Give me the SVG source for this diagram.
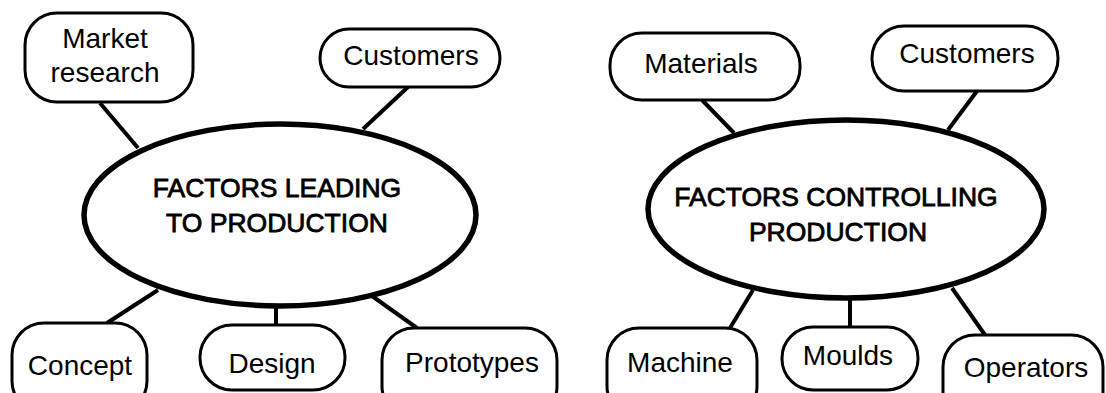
<svg xmlns="http://www.w3.org/2000/svg" width="1106" height="393" viewBox="0 0 1106 393">
<style>
.box{fill:#fff;stroke:#000;stroke-width:3}
.hub{fill:#fff;stroke:#000;stroke-width:5.5}
.lbl{font-family:"Liberation Sans",Arial,sans-serif;font-size:28px;fill:#000;text-anchor:middle}
.hubt{font-family:"Liberation Sans",Arial,sans-serif;font-size:26.5px;fill:#000;stroke:#000;stroke-width:0.8;text-anchor:middle}
.con{stroke:#000;stroke-width:4;fill:none}
</style>
<rect width="1106" height="393" fill="#fff"/>
<g id="connectors">
<line class="con" x1="100" y1="103" x2="138" y2="148"/>
<line class="con" x1="408" y1="87" x2="363" y2="129"/>
<line class="con" x1="107" y1="323" x2="158" y2="290"/>
<line class="con" x1="276" y1="305" x2="276" y2="325"/>
<line class="con" x1="417" y1="328" x2="372" y2="296"/>
<line class="con" x1="702" y1="100" x2="734" y2="133"/>
<line class="con" x1="977" y1="91" x2="948" y2="130"/>
<line class="con" x1="730" y1="328" x2="753" y2="290"/>
<line class="con" x1="850" y1="296" x2="850" y2="327"/>
<line class="con" x1="985" y1="335" x2="952" y2="288"/>
</g>
<g id="hub-left">
<ellipse class="hub" cx="280" cy="215" rx="196" ry="91"/>
<text class="hubt" x="277" y="197">FACTORS LEADING</text>
<text class="hubt" x="277" y="232">TO PRODUCTION</text>
</g>
<g id="hub-right">
<ellipse class="hub" cx="846" cy="209" rx="198" ry="89"/>
<text class="hubt" x="836" y="206">FACTORS CONTROLLING</text>
<text class="hubt" x="838" y="241">PRODUCTION</text>
</g>
<g id="market-research">
<rect class="box" x="25" y="13" width="168" height="89" rx="32"/>
<text class="lbl" x="105" y="48">Market</text>
<text class="lbl" x="105" y="82">research</text>
</g>
<g id="customers-left">
<rect class="box" x="320" y="29" width="180" height="58" rx="29"/>
<text class="lbl" x="411" y="65">Customers</text>
</g>
<g id="concept">
<rect class="box" x="12" y="323" width="135" height="90" rx="32"/>
<text class="lbl" x="80" y="375">Concept</text>
</g>
<g id="design">
<rect class="box" x="200" y="325" width="145" height="65" rx="32"/>
<text class="lbl" x="272" y="373">Design</text>
</g>
<g id="prototypes">
<rect class="box" x="382" y="328" width="175" height="90" rx="32"/>
<text class="lbl" x="472" y="372">Prototypes</text>
</g>
<g id="materials">
<rect class="box" x="610" y="33" width="190" height="67" rx="32"/>
<text class="lbl" x="701" y="73">Materials</text>
</g>
<g id="customers-right">
<rect class="box" x="872" y="26" width="186" height="65" rx="32"/>
<text class="lbl" x="967" y="63">Customers</text>
</g>
<g id="machine">
<rect class="box" x="607" y="328" width="150" height="90" rx="32"/>
<text class="lbl" x="680" y="372">Machine</text>
</g>
<g id="moulds">
<rect class="box" x="782" y="327" width="136" height="63" rx="31"/>
<text class="lbl" x="848" y="365">Moulds</text>
</g>
<g id="operators">
<rect class="box" x="943" y="335" width="160" height="90" rx="32"/>
<text class="lbl" x="1026" y="377">Operators</text>
</g>
</svg>
